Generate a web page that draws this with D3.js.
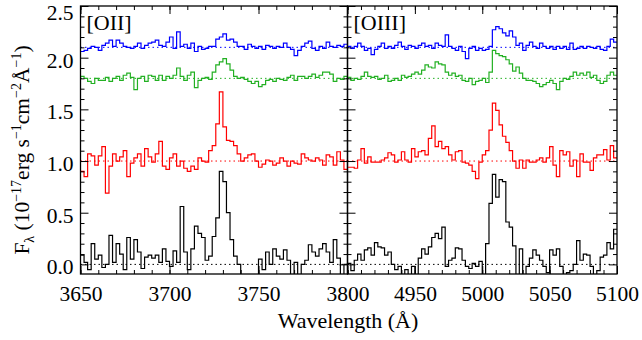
<!DOCTYPE html>
<html>
<head>
<meta charset="utf-8">
<script src="https://cdn.jsdelivr.net/npm/d3@7"></script>
<style>
  body { margin: 0; background: #fff; }
  svg { display: block; font-family: "Liberation Serif", "Times New Roman", serif; }
</style>
</head>
<body>
<div id="chart"></div>
<script>
// [OII] panel, 2 A bins from 3650
const oiiStart = 3650, oiiStep = 2;
const oiiBlack = [0.09,0.02,-0.05,0.20,0.05,0.09,-0.03,0.00,0.28,0.02,
  0.20,0.10,-0.05,0.26,0.05,0.24,0.12,-0.04,0.07,0.09,
  0.06,0.09,0.02,0.15,0.03,-0.02,0.13,0.02,0.56,0.12,
  -0.05,0.15,0.37,0.30,0.26,0.04,0.08,0.27,0.45,0.90,
  0.80,0.50,0.24,0.08,0.00,-0.15,-0.12,-0.18,-0.14,-0.12,
  0.05,-0.05,0.12,0.00,0.15,0.08,0.05,0.14,0.04,-0.12,
  0.02,-0.10,0.00,0.04,0.19,0.12,0.08,0.15,0.20,0.12,
  0.02,0.24,0.06,-0.10,0.00];
const oiiRed = [0.90,0.85,1.07,1.05,0.96,1.05,1.14,0.69,0.95,1.07,
  1.00,1.04,1.10,0.85,0.98,1.03,1.07,0.95,1.12,1.04,
  0.99,1.07,1.19,0.95,0.92,1.03,1.07,0.95,1.00,0.93,
  0.90,0.95,0.92,1.03,1.00,0.99,1.10,1.15,1.36,1.67,
  1.33,1.20,1.19,1.15,1.07,1.00,1.03,1.06,1.07,1.00,
  0.94,0.97,1.01,1.00,0.96,0.98,1.03,1.00,0.95,1.00,
  0.98,0.97,1.07,1.03,1.01,1.00,1.03,1.01,0.96,1.06,
  1.04,0.96,1.09,1.01,0.92];
const oiiGreen = [1.82,1.80,1.77,1.75,1.80,1.78,1.78,1.81,1.77,1.80,
  1.82,1.78,1.83,1.85,1.81,1.69,1.80,1.82,1.77,1.83,
  1.82,1.78,1.83,1.78,1.82,1.80,1.83,1.90,1.82,1.78,
  1.83,1.86,1.71,1.78,1.80,1.81,1.79,1.86,1.93,1.96,
  1.99,1.94,1.88,1.82,1.80,1.81,1.79,1.77,1.75,1.77,
  1.72,1.74,1.78,1.79,1.77,1.80,1.79,1.78,1.81,1.83,
  1.78,1.82,1.82,1.80,1.82,1.84,1.81,1.83,1.86,1.86,
  1.84,1.77,1.80,1.79,1.82];
const oiiBlue = [2.06,2.07,2.09,2.11,2.10,2.07,2.12,2.14,2.17,2.11,
  2.17,2.14,2.11,2.10,2.09,2.11,2.14,2.09,2.12,2.14,
  2.15,2.17,2.12,2.11,2.15,2.20,2.09,2.25,2.11,2.13,
  2.09,2.14,2.06,2.11,2.08,2.09,2.11,2.11,2.18,2.20,
  2.23,2.17,2.18,2.15,2.11,2.11,2.08,2.13,2.11,2.09,
  2.11,2.08,2.12,2.11,2.09,2.11,2.10,2.14,2.10,2.08,
  2.02,2.07,2.11,2.14,2.16,2.09,2.07,2.11,2.09,2.15,
  2.11,2.10,2.12,2.11,2.13];

// [OIII] panel, 2.5 A bins from 4900
const oiiiStart = 4900, oiiiStep = 2.5;
const oiiiBlack = [0.01,-0.06,0.04,0.10,0.04,0.14,0.16,0.09,0.21,0.17,
  0.16,0.09,0.12,0.00,-0.05,-0.02,-0.12,-0.05,-0.12,-0.02,
  -0.12,0.06,0.15,0.10,0.17,0.26,0.30,0.25,0.36,-0.02,
  0.04,0.06,0.16,0.15,0.04,-0.02,-0.04,0.01,-0.02,0.03,
  -0.12,0.20,0.59,0.87,0.65,0.82,0.80,0.41,0.36,0.18,
  -0.12,0.15,-0.12,-0.02,0.06,0.14,0.09,0.04,-0.02,-0.08,
  0.14,0.09,0.15,-0.02,-0.12,-0.08,-0.06,0.00,0.23,0.04,
  0.10,0.09,-0.02,-0.12,-0.06,0.07,0.09,0.21,0.15,0.34];
const oiiiRed = [0.94,0.94,0.93,1.01,1.12,0.98,1.04,0.99,0.99,0.99,
  1.01,1.03,1.08,1.06,0.99,1.01,1.09,1.01,0.99,1.12,
  1.04,1.09,1.10,1.06,1.22,1.34,1.14,1.19,1.12,1.14,
  1.06,1.01,1.09,1.10,0.99,0.98,0.96,0.90,0.83,0.99,
  1.06,1.10,1.30,1.56,1.49,1.35,1.24,1.18,1.10,1.00,
  0.93,1.01,0.93,1.01,0.99,0.99,1.01,1.03,0.99,1.03,
  1.14,0.96,0.85,1.10,1.06,1.09,0.95,1.01,0.85,1.07,
  0.99,0.99,0.91,1.03,1.06,1.06,1.11,1.01,1.15,1.03];
const oiiiGreen = [1.81,1.78,1.80,1.79,1.82,1.86,1.82,1.81,1.82,1.79,
  1.80,1.83,1.77,1.78,1.80,1.78,1.83,1.81,1.82,1.84,
  1.86,1.84,1.88,1.93,1.91,1.90,1.96,1.94,1.93,1.86,
  1.83,1.85,1.82,1.83,1.78,1.77,1.80,1.74,1.77,1.78,
  1.80,1.76,1.86,2.07,2.04,2.02,2.01,1.98,1.94,1.87,
  1.91,1.85,1.80,1.78,1.78,1.77,1.75,1.72,1.74,1.76,
  1.78,1.75,1.69,1.77,1.80,1.79,1.82,1.86,1.83,1.85,
  1.83,1.86,1.81,1.83,1.78,1.75,1.77,1.83,1.86,1.83];
const oiiiBlue = [2.11,2.09,2.11,2.14,2.11,2.07,2.09,2.03,2.08,2.11,
  2.14,2.09,2.11,2.09,2.12,2.15,2.11,2.08,2.12,2.11,
  2.09,2.12,2.14,2.11,2.12,2.09,2.14,2.12,2.11,2.22,
  2.11,2.09,2.07,2.11,2.06,1.99,2.09,2.11,2.07,2.09,
  2.07,2.08,2.11,2.27,2.30,2.28,2.24,2.21,2.26,2.20,
  2.12,2.14,2.07,2.12,2.15,2.11,2.09,2.14,2.11,2.09,
  2.11,2.08,2.11,2.09,2.11,2.08,2.14,2.08,2.09,2.11,
  2.09,2.11,2.10,2.09,2.11,2.08,2.07,2.11,2.18,2.15];

const baselines = [0, 1.0, 1.8, 2.1];
const colors = ['#000000', '#ff0000', '#22b022', '#0000ff'];
const yTicks = [0, 0.5, 1.0, 1.5, 2.0, 2.5];

const W = 642, H = 340;
const yTop = 6, yBot = 274;

const svg = d3.select('#chart').append('svg')
  .attr('width', W).attr('height', H);

const y = d3.scaleLinear().domain([-0.093, 2.5]).range([yBot, yTop]);
const yMinor = d3.range(0, 2.51, 0.1).map(v => +v.toFixed(1)).filter(v => !yTicks.includes(v));

const panels = [
  { label: '[OII]', id: 'p0', left: 80.5, right: 347.5, domain: [3650, 3800],
    ticks: [3650, 3700, 3750, 3800], start: oiiStart, step: oiiStep,
    series: [oiiBlack, oiiRed, oiiGreen, oiiBlue], yLabels: true },
  { label: '[OIII]', id: 'p1', left: 347.5, right: 617, domain: [4900, 5100],
    ticks: [4950, 5000, 5050, 5100], start: oiiiStart, step: oiiiStep,
    series: [oiiiBlack, oiiiRed, oiiiGreen, oiiiBlue], yLabels: false }
];

panels.forEach(p => {
  const x = d3.scaleLinear().domain(p.domain).range([p.left, p.right]);
  const g = svg.append('g');

  g.append('clipPath').attr('id', 'clip-' + p.id)
    .append('rect')
    .attr('x', p.left).attr('y', yTop)
    .attr('width', p.right - p.left).attr('height', yBot - yTop);

  const plot = g.append('g').attr('clip-path', `url(#clip-${p.id})`);

  // dotted continuum levels
  baselines.forEach((b, k) => {
    plot.append('line')
      .attr('x1', p.left).attr('x2', p.right)
      .attr('y1', y(b)).attr('y2', y(b))
      .attr('stroke', colors[k]).attr('stroke-width', 1)
      .attr('stroke-dasharray', '1.5,3');
  });

  // histogram-style spectra
  const line = d3.line()
    .x(d => x(d[0])).y(d => y(d[1]))
    .curve(d3.curveStepAfter);
  p.series.forEach((vals, k) => {
    const pts = vals.map((v, i) => [p.start + i * p.step, v]);
    pts.push([p.start + vals.length * p.step, vals[vals.length - 1]]);
    plot.append('path').datum(pts)
      .attr('fill', 'none')
      .attr('stroke', colors[k])
      .attr('stroke-width', 1.2)
      .attr('d', line);
  });

  // x axes, ticks inward
  const xMinor = d3.range(p.domain[0], p.domain[1] + 1, 10);
  [[d3.axisBottom, yBot], [d3.axisTop, yTop]].forEach(([ax, yy]) => {
    const isBottom = ax === d3.axisBottom;
    const major = g.append('g').attr('transform', `translate(0,${yy})`)
      .call(ax(x).tickValues(p.ticks).tickSize(-8).tickPadding(12)
        .tickFormat(isBottom ? d3.format('d') : ''));
    major.select('.domain').remove();
    major.selectAll('text').attr('font-size', 21.5).attr('fill', '#000')
      .attr('font-family', '"Liberation Serif", serif');
    const minor = g.append('g').attr('transform', `translate(0,${yy})`)
      .call(ax(x).tickValues(xMinor).tickSize(-4).tickFormat(''));
    minor.select('.domain').remove();
  });

  // y axes, ticks inward on both sides
  [[d3.axisLeft, p.left], [d3.axisRight, p.right]].forEach(([ax, xx]) => {
    const withText = p.yLabels && ax === d3.axisLeft;
    const major = g.append('g').attr('transform', `translate(${xx},0)`)
      .call(ax(y).tickValues(yTicks).tickSize(-8).tickPadding(7)
        .tickFormat(withText ? d3.format('.1f') : ''));
    major.select('.domain').remove();
    major.selectAll('text').attr('font-size', 21.5).attr('fill', '#000')
      .attr('font-family', '"Liberation Serif", serif')
      .attr('y', d => d === 2.5 ? 7 : 2.5);
    const minor = g.append('g').attr('transform', `translate(${xx},0)`)
      .call(ax(y).tickValues(yMinor).tickSize(-4).tickFormat(''));
    minor.select('.domain').remove();
  });

  g.append('rect')
    .attr('x', p.left).attr('y', yTop)
    .attr('width', p.right - p.left).attr('height', yBot - yTop)
    .attr('fill', 'none').attr('stroke', '#000').attr('stroke-width', 1.3);

  g.append('text')
    .attr('x', p.left + 6).attr('y', 30)
    .attr('font-size', 22)
    .text(p.label);
});

svg.selectAll('.tick line').attr('stroke', '#000').attr('stroke-width', 1);

// axis titles
svg.append('text')
  .attr('x', 348).attr('y', 328)
  .attr('text-anchor', 'middle')
  .attr('font-size', 22)
  .text('Wavelength (Å)');

const yl = svg.append('text')
  .attr('transform', 'translate(29,150) rotate(-90)')
  .attr('text-anchor', 'middle')
  .attr('font-size', 21.5);
const parts = [
  ['F', 0, 21.5], ['λ', 5, 14], [' (10', -5, 21.5], ['−17', -8, 14],
  ['erg s', 8, 21.5], ['−1', -8, 14], ['cm', 8, 21.5], ['−2', -8, 14],
  ['Å', 8, 21.5], ['−1', -8, 14], [')', 8, 21.5]
];
parts.forEach(([t, dy, fs]) => {
  yl.append('tspan').attr('dy', dy).attr('font-size', fs).text(t);
});
</script>
</body>
</html>
